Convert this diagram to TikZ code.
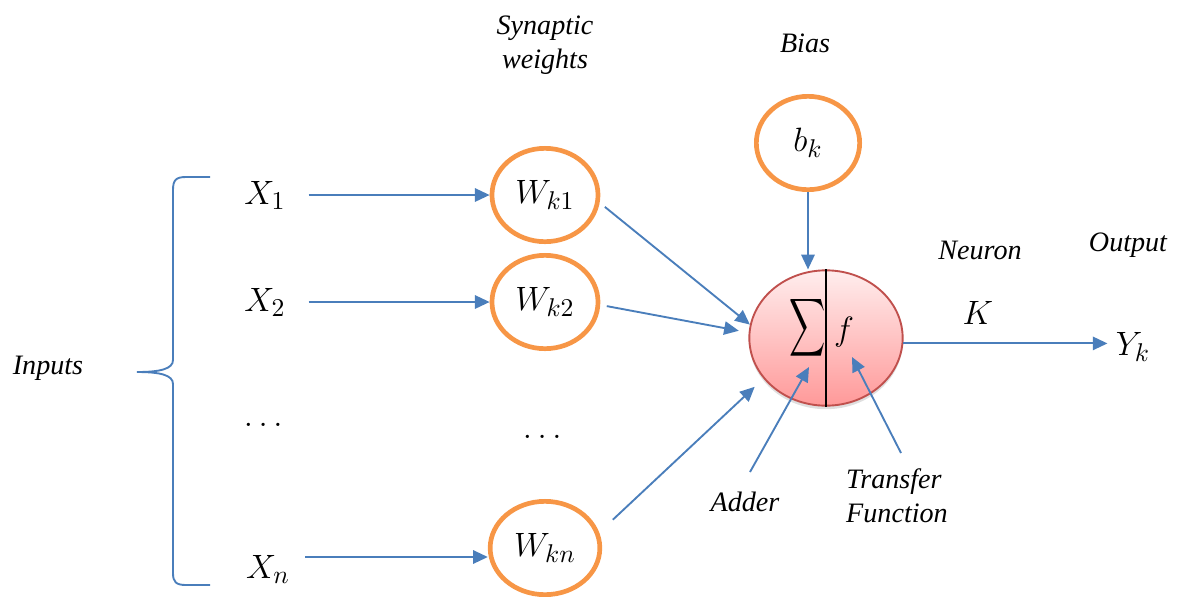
\documentclass[tikz,border=0pt]{standalone}
\usepackage{fontspec}
\setmainfont{Liberation Serif}
\usepackage{amsmath}
\usepackage{graphicx}
\usetikzlibrary{shapes.geometric, arrows.meta, positioning, calc, shadows}
\definecolor{nnblue}{RGB}{74,126,187}
\definecolor{nnorange}{RGB}{247,150,70}
\definecolor{nnred}{RGB}{192,80,77}
\tikzset{
  weight/.style={ellipse,draw=nnorange,line width=2pt,minimum width=1.55cm,minimum height=1.4cm,font=\fontsize{15}{17}\selectfont},
  neuron/.style={ellipse,draw=nnred,thick,top color=red!7,bottom color=red!40,minimum width=2.3cm,minimum height=2.03cm,
    drop shadow={opacity=0.25,shadow xshift=0pt,shadow yshift=-1.5pt}},
  signal/.style={font=\fontsize{15}{17}\selectfont},
  caption/.style={font=\fontsize{12}{14.5}\selectfont\itshape,align=center},
  link/.style={nnblue,thick,-{Triangle[length=2.2mm,width=2mm]}},
  brace/.style={nnblue,thick},
}

\begin{document}
\begin{tikzpicture}[x=0.015cm,y=-0.015cm]
	\useasboundingbox (0,0) rectangle (1181,596);
	% inputs
	\node[caption] (inputs) at (48,368) {Inputs};
	\node[signal] (x1) at (265,195) {$X_1$};
	\node[signal] (x2) at (265,302) {$X_2$};
	\node[signal] (xdots) at (266,425) {$\dots$};
	\node[signal] (xn) at (268,569) {$X_n$};
	\draw[brace] (210,177) -- (186,177) .. controls (176,177) and (173,180) .. (173,190)
		-- (173,360) .. controls (173,369) and (160,372) .. (137,372)
		.. controls (160,372) and (173,375) .. (173,384)
		-- (173,573) .. controls (173,582) and (176,585) .. (186,585) -- (210,585);
	% weights
	\node[caption] (synlabel) at (545,45) {Synaptic\\weights};
	\node[weight] (w1) at (545,195) {$W_{k1}$};
	\node[weight] (w2) at (545,302) {$W_{k2}$};
	\node[signal] (wdots) at (545,437) {$\dots$};
	\node[weight] (wn) at (545,548) {$W_{kn}$};
	\coordinate (xnout) at (305,557);
	\draw[link,shorten <=0.22cm] (x1) -- (w1);
	\draw[link,shorten <=0.22cm] (x2) -- (w2);
	\draw[link] (xnout) -- (xnout -| wn.west);
	% bias and neuron
	\node[caption] (biaslabel) at (805,43) {Bias};
	\node[weight] (bk) at (808,143) {$b_k$};
	\node[neuron] (neuron) at (826,338) {};
	\draw[thick,black] (neuron.north) -- (neuron.south);
	\node[anchor=east,inner sep=0pt] (sum) at (826.5,328) {\scalebox{0.62}[1]{\fontsize{16}{18}\selectfont$\displaystyle\sum$}};
	\node[signal] (fn) at (844,332) {$f$};
	\draw[link] (bk) -- (bk |- neuron.north);
	\draw[link,shorten <=0.1cm] (w1.-8) -- (neuron.170);
	\draw[link,shorten <=0.1cm,shorten >=0.15cm] (w2.-3) -- (neuron.176);
	\draw[link,shorten <=0.28cm,shorten >=0.18cm] (wn.16) -- (neuron.213);
	% adder and transfer function
	\node[caption] (adder) at (745,502) {Adder};
	\node[caption,align=left] (transfer) at (897,496) {Transfer\\Function};
	\coordinate (addtail) at (750,472);
	\coordinate (sumin) at (809,367);
	\coordinate (transtail) at (901,453);
	\coordinate (fin) at (852,357);
	\draw[link] (addtail) -- (sumin);
	\draw[link] (transtail) -- (fin);
	% output
	\node[caption] (neuronlabel) at (980,250) {Neuron};
	\node[caption] (outlabel) at (1128,245) {Output};
	\node[signal] (k) at (978,313) {$K$};
	\node[signal] (yk) at (1133,347) {$Y_k$};
	\draw[link] (neuron.-4) -- (neuron.-4 -| yk.west);
\end{tikzpicture}
\end{document}
